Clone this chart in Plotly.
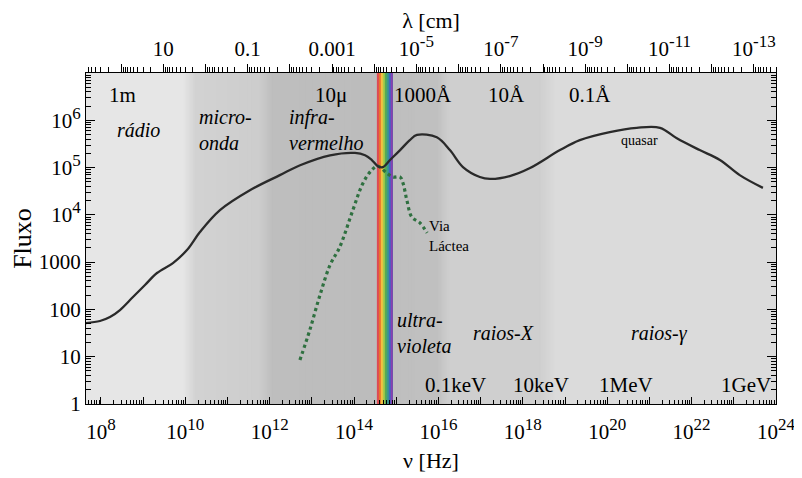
import numpy as np
import plotly.graph_objects as go

# ---------------- data (log10 values) ----------------
quasar_lognu = [7.645, 7.976, 8.213, 8.45, 8.758, 9.043, 9.327, 9.706, 10.038, 10.346,
                10.82, 11.53, 12.24, 12.72, 13.43, 14.02, 14.26, 14.42, 14.56, 14.68,
                14.85, 15.09, 15.32, 15.49, 15.96, 16.27, 16.58, 16.98, 17.22, 17.69,
                18.17, 18.88, 19.35, 20.06, 20.70, 21.25, 21.65, 22.19, 22.67, 23.14, 23.69]
quasar_logF = [1.712, 1.755, 1.839, 1.987, 2.262, 2.516, 2.77, 2.981, 3.256, 3.636,
               4.10, 4.52, 4.84, 5.05, 5.26, 5.31, 5.26, 5.16, 5.03, 5.01,
               5.16, 5.37, 5.58, 5.69, 5.64, 5.37, 5.01, 4.80, 4.76, 4.82,
               4.99, 5.37, 5.58, 5.75, 5.84, 5.84, 5.62, 5.37, 5.16, 4.84, 4.57]

milkyway_lognu = [12.716, 12.95, 13.19, 13.43, 13.66, 13.97, 14.21, 14.42, 14.56, 14.78,
                  14.92, 15.09, 15.16, 15.25, 15.37, 15.56, 15.73]
milkyway_logF = [0.93, 1.565, 2.30, 2.94, 3.32, 4.10, 4.67, 4.95, 5.03, 4.88,
                 4.80, 4.80, 4.67, 4.31, 3.95, 3.83, 3.62]

# tick labels
nu_tick_exp = list(range(8, 25))
lam_tick_exp = list(range(2, -14, -1))
flux_tick_exp = list(range(0, 7))
flux_tick_base = ["1", "10", "100", "1000", "10", "10", "10"]
flux_tick_sup = ["", "", "", "", "4", "5", "6"]

# spectral band background (log10 nu knots, grey level)
band_lognu = [7.645, 9.943, 10.251, 11.744, 12.076, 14.56]
band_grey = [230, 230, 210, 205, 190, 188]
band2_lognu = [14.90, 15.962, 16.27, 18.40, 18.78, 24.0]
band2_grey = [191, 192, 207, 207, 219, 219]

# visible rainbow
rainbow_lognu = [14.54, 14.915]
rainbow_colors = ["#dd4a55", "#e8722e", "#f2c040", "#a8cc4a", "#55aa55", "#3a9a8a", "#3f67c0", "#8a3fb0"]

C_CM = 3e10  # speed of light, cm/s

SERIF = "Liberation Serif"

fig = go.Figure()

# ---------------- background shapes ----------------
shapes = []


def grey(g):
    g = int(round(g))
    return f"rgb({g},{g},{g})"


def add_band(knots, greys):
    end = knots[-1]
    for i in range(len(knots) - 1):
        a, b = knots[i], knots[i + 1]
        ga, gb = greys[i], greys[i + 1]
        n = 1 if ga == gb else 16
        for j in range(n):
            x0 = a + (b - a) * j / n
            gval = ga + (gb - ga) * (j + 0.5) / n
            shapes.append(dict(type="rect", xref="x", yref="paper",
                               x0=10 ** x0, x1=10 ** end, y0=0, y1=1,
                               fillcolor=grey(gval), line=dict(width=0), layer="below"))


add_band(band_lognu, band_grey)
add_band(band2_lognu, band2_grey)

nr = len(rainbow_colors)
for i, c in enumerate(rainbow_colors):
    a = rainbow_lognu[0] + (rainbow_lognu[1] - rainbow_lognu[0]) * i / nr
    b = rainbow_lognu[1]
    shapes.append(dict(type="rect", xref="x", yref="paper", x0=10 ** a, x1=10 ** b,
                       y0=0, y1=1, fillcolor=c, line=dict(width=0), layer="below"))

# ---------------- traces ----------------
fig.add_trace(go.Scatter(x=np.power(10.0, milkyway_lognu), y=np.power(10.0, milkyway_logF),
                         mode="lines", line=dict(color="#2f7040", width=3.2, dash="dot", shape="spline"),
                         hoverinfo="skip", showlegend=False))
fig.add_trace(go.Scatter(x=np.power(10.0, quasar_lognu), y=np.power(10.0, quasar_logF),
                         mode="lines", line=dict(color="#2a2a2a", width=2.3, shape="spline"),
                         hoverinfo="skip", showlegend=False))
# dummy trace to activate the top wavelength axis
fig.add_trace(go.Scatter(x=[10.0 ** 2.8, 10.0 ** -13.5], y=[1, 1], xaxis="x2", mode="markers",
                         marker=dict(size=1, opacity=0), hoverinfo="skip", showlegend=False))

# ---------------- axes ----------------
xr = [7.645, 24.0]
lam_r = [np.log10(C_CM) - xr[0], np.log10(C_CM) - xr[1]]

nu_minor = [k * 10.0 ** n for n in range(7, 24) for k in range(2, 10)]
lam_minor = [k * 10.0 ** n for n in range(-14, 3) for k in range(2, 10)]
flux_minor = [k * 10.0 ** n for n in range(0, 7) for k in range(2, 10)]


def sup(base, e):
    if e == "":
        return base
    return f"{base}<sup><span style='font-size:17px'>{e}</span></sup>"


nu_text = [sup("10", e) if e % 2 == 0 else "" for e in nu_tick_exp]
flux_tick_text = [sup(b, s) for b, s in zip(flux_tick_base, flux_tick_sup)]


def lam_label(e):
    if e % 2 == 0:
        return ""
    if e == 1:
        return "10"
    if e == -1:
        return "0.1"
    if e == -3:
        return "0.001"
    return sup("10", e)


lam_text = [lam_label(e) for e in lam_tick_exp]

tickfont = dict(family=SERIF, size=21, color="black")

# the page body adds an 8 px offset, so the figure is 8 px smaller and margins compensate
fig.update_layout(
    width=794, height=470,
    margin=dict(l=78, r=26, t=65, b=74),
    paper_bgcolor="white", plot_bgcolor="white",
    shapes=shapes,
    xaxis=dict(type="log", range=xr, showgrid=False, zeroline=False, automargin=False,
               showline=True, linecolor="black", linewidth=1, mirror=False,
               tickmode="array", tickvals=[10.0 ** e for e in nu_tick_exp], ticktext=nu_text,
               ticks="inside", ticklen=7, tickwidth=1, tickcolor="black", ticklabelstandoff=9,
               minor=dict(tickmode="array", tickvals=nu_minor, ticks="inside", ticklen=4,
                          tickwidth=1, tickcolor="black"),
               tickfont=tickfont,
               title=dict(text="ν [Hz]", font=dict(family=SERIF, size=22, color="black"), standoff=9)),
    xaxis2=dict(type="log", range=lam_r, overlaying="x", side="top", showgrid=False, zeroline=False,
                automargin=False,
                showline=True, linecolor="black", linewidth=1,
                tickmode="array", tickvals=[10.0 ** e for e in lam_tick_exp], ticktext=lam_text,
                ticks="outside", ticklen=8, tickwidth=1, tickcolor="black",
                minor=dict(tickmode="array", tickvals=lam_minor, ticks="outside", ticklen=5,
                           tickwidth=1, tickcolor="black"),
                tickfont=tickfont,
                title=dict(text="λ [cm]", font=dict(family=SERIF, size=22, color="black"), standoff=2)),
    yaxis=dict(type="log", range=[0, 7], showgrid=False, zeroline=False, automargin=False,
               showline=True, linecolor="black", linewidth=1, mirror="ticks",
               tickmode="array", tickvals=[10.0 ** e for e in flux_tick_exp], ticktext=flux_tick_text,
               ticks="inside", ticklen=9, tickwidth=1, tickcolor="black",
               minor=dict(tickmode="array", tickvals=flux_minor, ticks="inside", ticklen=5,
                          tickwidth=1, tickcolor="black"),
               tickfont=tickfont,
               title=dict(text="Fluxo", font=dict(family=SERIF, size=26, color="black"), standoff=8)),
)

# ---------------- annotations (log10 coordinates) ----------------
ann = []


def add_text(lx, ly, text, size=20, italic=False, xanchor="center", align="center"):
    t = f"<i>{text}</i>" if italic else text
    ann.append(dict(x=lx, y=ly, xref="x", yref="y", text=t, showarrow=False,
                    xanchor=xanchor, yanchor="middle", align=align,
                    font=dict(family=SERIF, size=size, color="black")))


top_labels = [("1m", 8.52), ("10μ", 13.45), ("1000Å", 15.63), ("10Å", 17.62), ("0.1Å", 19.59)]
for t, lx in top_labels:
    add_text(lx, 6.53, t, size=21)

bottom_labels = [("0.1keV", 16.41), ("10keV", 18.43), ("1MeV", 20.44), ("1GeV", 23.28)]
for t, lx in bottom_labels:
    add_text(lx, 0.40, t, size=21)

add_text(8.88, 5.79, "rádio", size=20, italic=True)
add_text(10.27, 5.79, "micro-<br>onda", size=20, italic=True, xanchor="left", align="left")
add_text(12.41, 5.79, "infra-<br>vermelho", size=20, italic=True, xanchor="left", align="left")
add_text(14.97, 1.50, "ultra-<br>violeta", size=20, italic=True, xanchor="left", align="left")
add_text(17.53, 1.50, "raios-X", size=20, italic=True)
add_text(21.25, 1.50, "raios-γ", size=20, italic=True)
add_text(20.77, 5.58, "quasar", size=14)
add_text(15.73, 3.55, "Via<br>Láctea", size=15, xanchor="left", align="left")

fig.update_layout(annotations=ann)

fig.write_html("out.html")
